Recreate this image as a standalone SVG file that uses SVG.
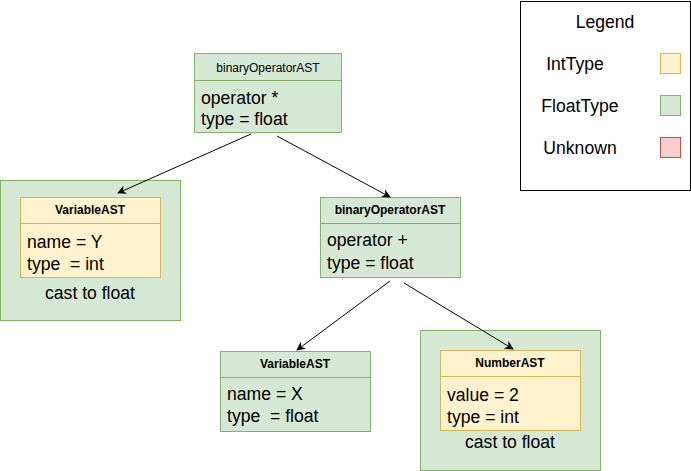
<svg xmlns="http://www.w3.org/2000/svg" width="691" height="471" viewBox="0 0 691 471">
<defs>
<style>
.g{fill:#d5e8d4;stroke:#82b366;stroke-width:1}
.y{fill:#fff2cc;stroke:#d6b656;stroke-width:1}
.r{fill:#f8cecc;stroke:#b85450;stroke-width:1}
.t{font-family:"Liberation Sans",Arial,sans-serif;fill:#000}
.h{font-size:12px;text-anchor:middle}
.b{font-weight:bold}
.m{font-size:17.6px}
.c{text-anchor:middle}
.e{stroke:#000;stroke-width:1;fill:none;marker-end:url(#ah)}
</style>
<marker id="ah" viewBox="0 0 10 10" refX="9" refY="5" markerWidth="9" markerHeight="9" orient="auto" markerUnits="userSpaceOnUse">
<path d="M0,0 L10,5 L0,10 L3,5 Z" fill="#000"/>
</marker>
</defs>
<rect width="691" height="471" fill="#fff"/>
<g id="node-top">
<rect class="g" x="194.5" y="53.5" width="147" height="79"/>
<line class="g" x1="194.5" y1="80.5" x2="341.5" y2="80.5"/>
<text class="t h" x="268" y="72">binaryOperatorAST</text>
<text class="t m" x="201" y="104">operator *</text>
<text class="t m" x="201" y="125">type = float</text>
</g>
<g id="node-varY">
<rect class="g" x="0.5" y="180.5" width="180" height="140"/>
<rect class="y" x="20.5" y="197.5" width="140" height="80"/>
<line class="y" x1="20.5" y1="223.5" x2="160.5" y2="223.5"/>
<text class="t h b" x="90" y="214">VariableAST</text>
<text class="t m" x="27" y="248">name = Y</text>
<text class="t m" x="27" y="270" xml:space="preserve">type  = int</text>
<text class="t m c" x="90" y="299">cast to float</text>
</g>
<g id="node-plus">
<rect class="g" x="320.5" y="197.5" width="140" height="80"/>
<line class="g" x1="320.5" y1="223.5" x2="460.5" y2="223.5"/>
<text class="t h b" x="390" y="214">binaryOperatorAST</text>
<text class="t m" x="327" y="246">operator +</text>
<text class="t m" x="327" y="269">type = float</text>
</g>
<g id="node-varX">
<rect class="g" x="220.5" y="351.5" width="150" height="80"/>
<line class="g" x1="220.5" y1="377.5" x2="370.5" y2="377.5"/>
<text class="t h b" x="295" y="368">VariableAST</text>
<text class="t m" x="227" y="400">name = X</text>
<text class="t m" x="227" y="422" xml:space="preserve">type  = float</text>
</g>
<g id="node-number">
<rect class="g" x="420.5" y="330.5" width="180" height="140"/>
<rect class="y" x="440.5" y="350.5" width="140" height="80"/>
<line class="y" x1="440.5" y1="376.5" x2="580.5" y2="376.5"/>
<text class="t h b" x="510" y="367">NumberAST</text>
<text class="t m" x="447" y="401">value = 2</text>
<text class="t m" x="447" y="423">type = int</text>
<text class="t m c" x="510" y="448">cast to float</text>
</g>
<g id="legend">
<rect x="520.5" y="1.5" width="170" height="189" fill="#fff" stroke="#000" stroke-width="1"/>
<text class="t m c" x="605" y="28">Legend</text>
<text class="t m c" x="575" y="70">IntType</text>
<text class="t m c" x="580" y="112">FloatType</text>
<text class="t m c" x="580" y="154">Unknown</text>
<rect class="y" x="660.5" y="53.5" width="20" height="20"/>
<rect class="g" x="660.5" y="95.5" width="20" height="20"/>
<rect class="r" x="660.5" y="137.5" width="20" height="20"/>
</g>
<g id="connectors">
<line class="e" x1="251" y1="134" x2="118" y2="193"/>
<line class="e" x1="277" y1="136" x2="390" y2="197"/>
<line class="e" x1="390" y1="281" x2="297" y2="350"/>
<line class="e" x1="404" y1="283" x2="513" y2="349"/>
</g>
</svg>
